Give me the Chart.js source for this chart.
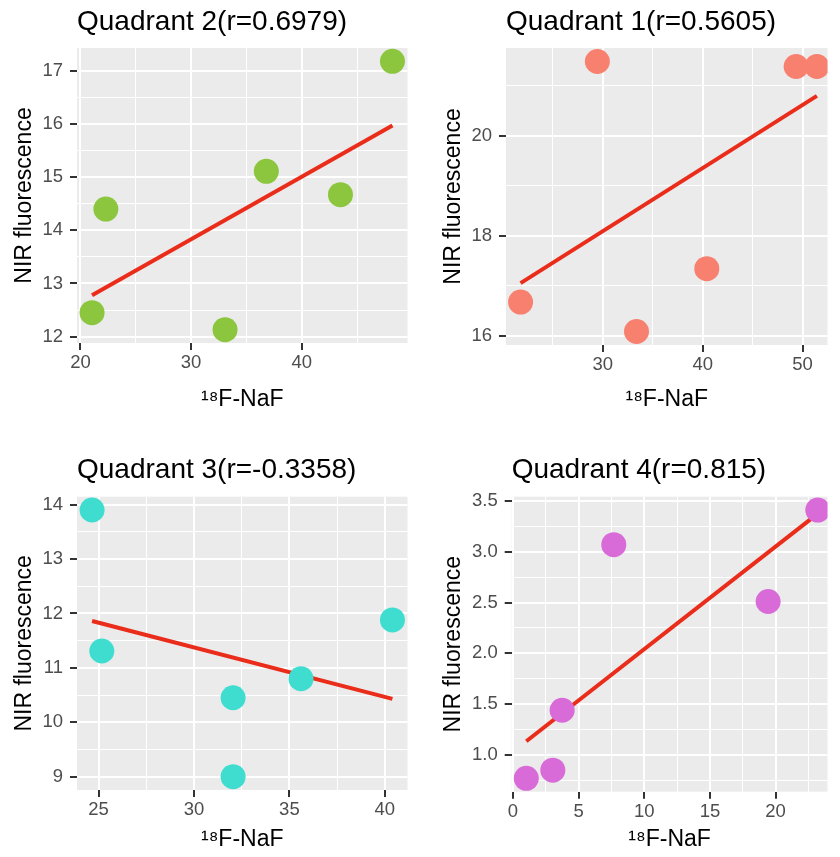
<!DOCTYPE html>
<html><head><meta charset="utf-8">
<script src="https://cdn.jsdelivr.net/npm/chart.js@4.4.1/dist/chart.umd.min.js"></script>
<style>
html,body{margin:0;padding:0;background:#fff;}
#wrap{position:relative;width:840px;height:857px;overflow:hidden;background:#fff;}
canvas{position:absolute;}
</style></head><body>
<div id="wrap">
<canvas id="c2" style="left:0px;top:0px" width="420" height="428"></canvas>
<canvas id="c1" style="left:420px;top:0px" width="420" height="428"></canvas>
<canvas id="c3" style="left:0px;top:428px" width="420" height="429"></canvas>
<canvas id="c4" style="left:420px;top:428px" width="420" height="429"></canvas>
</div>
<script>
// ---------- data ----------
const titles = ['Quadrant 2(r=0.6979)', 'Quadrant 1(r=0.5605)', 'Quadrant 3(r=-0.3358)', 'Quadrant 4(r=0.815)'];
const xAxisTitle = '\u00B9\u2078F-NaF';
const yAxisTitle = 'NIR fluorescence';

// Quadrant 2
const q2X = [21.05, 22.3, 33.07, 36.8, 43.5, 48.2];
const q2Y = [12.45, 14.40, 12.13, 15.11, 14.67, 17.18];
const q2FitX = [21.05, 48.2];
const q2FitY = [12.78, 15.97];
const q2XTicks = [20, 30, 40];
const q2XTickLabels = ['20', '30', '40'];
const q2XMinor = [25, 35, 45];
const q2YTicks = [12, 13, 14, 15, 16, 17];
const q2YTickLabels = ['12', '13', '14', '15', '16', '17'];
const q2YMinor = [12.5, 13.5, 14.5, 15.5, 16.5];
const q2XRange = [19.69, 49.56];
const q2YRange = [11.88, 17.43];

// Quadrant 1
const q1X = [21.76, 29.45, 33.37, 40.41, 49.36, 51.44];
const q1Y = [16.67, 21.49, 16.08, 17.34, 21.39, 21.39];
const q1FitX = [21.76, 51.44];
const q1FitY = [17.05, 20.80];
const q1XTicks = [30, 40, 50];
const q1XTickLabels = ['30', '40', '50'];
const q1XMinor = [25, 35, 45];
const q1YTicks = [16, 18, 20];
const q1YTickLabels = ['16', '18', '20'];
const q1YMinor = [17, 19, 21];
const q1XRange = [20.3, 52.5];
const q1YRange = [15.81, 21.76];

// Quadrant 3
const q3X = [24.66, 25.17, 32.05, 32.05, 35.61, 40.4];
const q3Y = [13.90, 11.31, 10.45, 9.00, 10.80, 11.88];
const q3FitX = [24.66, 40.4];
const q3FitY = [11.86, 10.43];
const q3XTicks = [25, 30, 35, 40];
const q3XTickLabels = ['25', '30', '35', '40'];
const q3XMinor = [27.5, 32.5, 37.5];
const q3YTicks = [9, 10, 11, 12, 13, 14];
const q3YTickLabels = ['9', '10', '11', '12', '13', '14'];
const q3YMinor = [9.5, 10.5, 11.5, 12.5, 13.5];
const q3XRange = [23.87, 41.19];
const q3YRange = [8.755, 14.145];

// Quadrant 4
const q4X = [1.02, 3.04, 3.75, 7.68, 19.43, 23.21];
const q4Y = [0.77, 0.85, 1.44, 3.07, 2.51, 3.41];
const q4FitX = [1.02, 23.21];
const q4FitY = [1.135, 3.375];
const q4XTicks = [0, 5, 10, 15, 20];
const q4XTickLabels = ['0', '5', '10', '15', '20'];
const q4XMinor = [2.5, 7.5, 12.5, 17.5, 22.5];
const q4YTicks = [1.0, 1.5, 2.0, 2.5, 3.0, 3.5];
const q4YTickLabels = ['1.0', '1.5', '2.0', '2.5', '3.0', '3.5'];
const q4YMinor = [0.75, 1.25, 1.75, 2.25, 2.75, 3.25];
const q4XRange = [-0.09, 23.95];
const q4YRange = [0.638, 3.542];

const pointColors = ['#8CC63E', '#F8806F', '#3EDDCF', '#D96BD9'];
const fitColor = '#EA2C1A';

// ---------- layout (pixels) ----------
const geo = [
  {id:'c2', h:428, L:77, R:416, T:48, B:343, yTitlePad:11.2, titleTop:5.7, xTitlePad:14.5},
  {id:'c1', h:428, L:86, R:420, T:48, B:345, yTitlePad:19.5, titleTop:5.7, xTitlePad:14.8},
  {id:'c3', h:429, L:77, R:417, T:68.7, B:362, yTitlePad:10.4, titleTop:25.5, xTitlePad:3.8},
  {id:'c4', h:429, L:91.7, R:420, T:68.7, B:363.7, yTitlePad:19.5, titleTop:25.5, xTitlePad:3.8}
];

const panels = [
  {x:q2X, y:q2Y, fx:q2FitX, fy:q2FitY, xt:q2XTicks, xl:q2XTickLabels, xm:q2XMinor, yt:q2YTicks, yl:q2YTickLabels, ym:q2YMinor, xr:q2XRange, yr:q2YRange},
  {x:q1X, y:q1Y, fx:q1FitX, fy:q1FitY, xt:q1XTicks, xl:q1XTickLabels, xm:q1XMinor, yt:q1YTicks, yl:q1YTickLabels, ym:q1YMinor, xr:q1XRange, yr:q1YRange},
  {x:q3X, y:q3Y, fx:q3FitX, fy:q3FitY, xt:q3XTicks, xl:q3XTickLabels, xm:q3XMinor, yt:q3YTicks, yl:q3YTickLabels, ym:q3YMinor, xr:q3XRange, yr:q3YRange},
  {x:q4X, y:q4Y, fx:q4FitX, fy:q4FitY, xt:q4XTicks, xl:q4XTickLabels, xm:q4XMinor, yt:q4YTicks, yl:q4YTickLabels, ym:q4YMinor, xr:q4XRange, yr:q4YRange}
];

Chart.defaults.font.family = "'Liberation Sans', Arial, Helvetica, sans-serif";

const panelBg = {
  id: 'panelBg',
  beforeDraw(chart) {
    const a = chart.chartArea, c = chart.ctx;
    c.save(); c.fillStyle = '#EBEBEB';
    c.fillRect(a.left, a.top, a.right - a.left, a.bottom - a.top);
    c.restore();
  }
};

function scaleOpts(major, labels, minor, range, isX, g) {
  const all = major.concat(minor).filter(v => v >= range[0] && v <= range[1]).sort((a, b) => a - b);
  const isMajor = v => major.indexOf(v) >= 0;
  return {
    type: 'linear',
    min: range[0], max: range[1],
    afterBuildTicks: s => { s.ticks = all.map(v => ({value: v})); },
    afterFit: s => {
      if (isX) s.height = g.h - g.B; else s.width = g.L;
    },
    border: {display: false},
    grid: {
      color: '#FFFFFF',
      lineWidth: c => (c.tick && isMajor(c.tick.value)) ? 2 : 1,
      drawTicks: true,
      tickLength: 7,
      tickWidth: 2,
      tickColor: c => (c.tick && isMajor(c.tick.value)) ? '#333333' : 'rgba(0,0,0,0)'
    },
    ticks: {
      autoSkip: false,
      maxRotation: 0,
      padding: isX ? 2 : 7,
      color: '#4D4D4D',
      font: {size: 18.5},
      callback: v => { const i = major.indexOf(v); return i >= 0 ? labels[i] : ''; }
    },
    title: {
      display: true,
      text: isX ? xAxisTitle : yAxisTitle,
      color: '#000000',
      font: {size: 23},
      padding: isX ? {top: 0, bottom: g.xTitlePad} : {top: g.yTitlePad, bottom: 0}
    }
  };
}

panels.forEach((p, i) => {
  const g = geo[i];
  const pts = p.x.map((v, k) => ({x: v, y: p.y[k]}));
  const fit = p.fx.map((v, k) => ({x: v, y: p.fy[k]}));
  new Chart(document.getElementById(g.id), {
    type: 'scatter',
    data: {
      datasets: [
        {data: pts, order: 0, pointRadius: 12.5, pointHoverRadius: 12.5, pointBackgroundColor: pointColors[i], pointBorderWidth: 0, borderWidth: 0},
        {data: fit, order: 1, showLine: true, pointRadius: 0, borderColor: fitColor, borderWidth: 4, fill: false}
      ]
    },
    options: {
      responsive: false,
      animation: false,
      events: [],
      layout: {padding: {left: 0, right: 420 - g.R, top: 0, bottom: 0}},
      plugins: {
        legend: {display: false},
        tooltip: {enabled: false},
        title: {
          display: true,
          text: titles[i],
          align: 'start',
          fullSize: false,
          color: '#000000',
          font: {size: 28, weight: 'normal'},
          padding: {top: g.titleTop, bottom: g.T - g.titleTop - 33.6}
        }
      },
      scales: {
        x: scaleOpts(p.xt, p.xl, p.xm, p.xr, true, g),
        y: scaleOpts(p.yt, p.yl, p.ym, p.yr, false, g)
      }
    },
    plugins: [panelBg]
  });
});
</script>
</body></html>
